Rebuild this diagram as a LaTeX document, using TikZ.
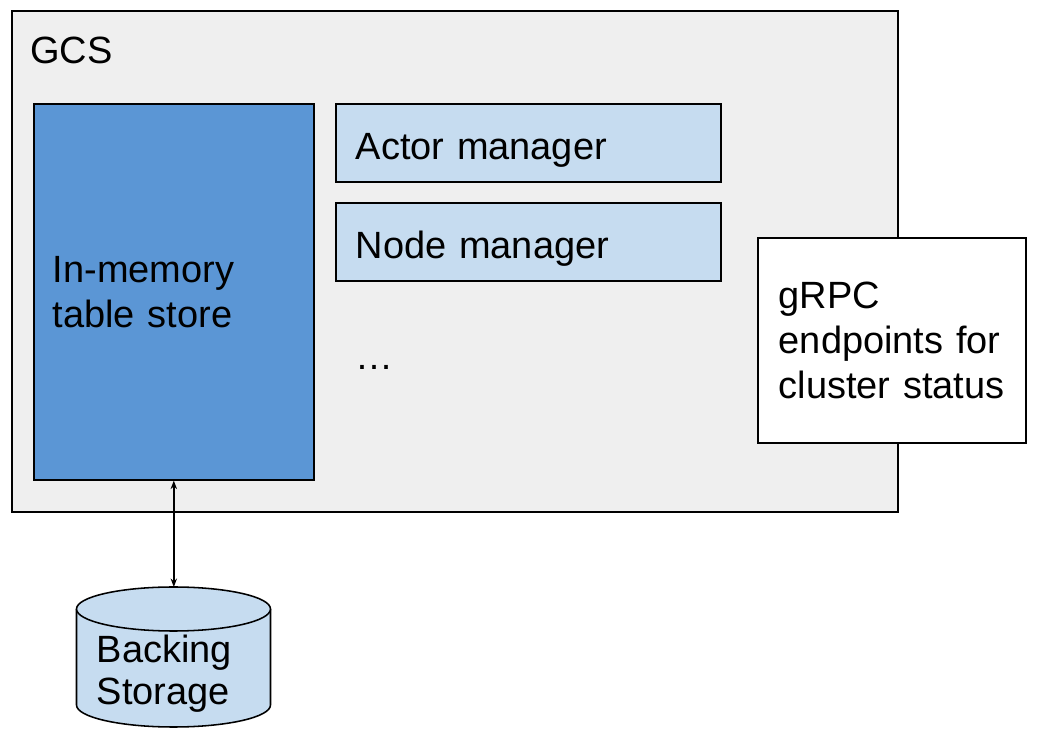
\documentclass[tikz,border=0pt]{standalone}
\usepackage{fontspec}
\setmainfont{Liberation Sans}
\usepackage{tikz}
\usetikzlibrary{arrows,arrows.meta,calc}

\definecolor{gcsgray}{HTML}{EFEFEF}
\definecolor{darkblue}{HTML}{5B96D5}
\definecolor{lightblue}{HTML}{C6DCF0}

\begin{document}
\begin{tikzpicture}[x=0.025cm,y=0.025cm]
	\tikzstyle{box} = [draw, line width=1.1pt, rectangle, anchor=north west, inner ysep=0pt, align=left, font=\fontsize{27}{32}\selectfont]
	\tikzstyle{manager} = [box, fill=lightblue, minimum width=9.625cm, minimum height=1.95cm, inner xsep=0.5cm, text width=8.625cm, text height=23.6pt, text depth=0pt]
	\useasboundingbox (0,0) rectangle (1054,744);
	% outer GCS box
	\node[box, fill=gcsgray, minimum width=22.15cm, minimum height=12.525cm] (gcs) at (11,734) {};
	\node[anchor=base west, inner sep=0pt, font=\fontsize{27}{32}\selectfont] (gcslabel) at (30,680) {GCS};
	% parts inside
	\node[box, fill=darkblue, minimum width=7cm, minimum height=9.4cm, inner xsep=0.475cm, text width=6.05cm] (imts) at (33,641) {In-memory\\table store};
	\node[manager] (actor) at (335,641) {Actor manager};
	\node[manager] (nodemgr) at (335,542) {Node manager};
	\node[anchor=base west, inner sep=0pt, font=\fontsize{27}{32}\selectfont] (dots) at (355,374) {…};
	\node[box, fill=white, minimum width=6.7cm, minimum height=5.125cm, inner xsep=0.525cm, text width=5.65cm] (grpc) at (757,507) {gRPC\\endpoints for\\cluster status};
	% backing storage
	\filldraw[fill=lightblue, line width=1.1pt] (76.5,135) -- (76.5,39) arc[start angle=180, end angle=360, x radius=97, y radius=22] -- (270.5,135);
	\filldraw[fill=lightblue, line width=1.1pt] (173.5,135) ellipse [x radius=97, y radius=22];
	\coordinate (disk) at (173.5,157);
	\node[inner sep=0pt, text width=3.825cm, align=left, font=\fontsize{27}{30}\selectfont] (storage) at (173.5,70) {Backing\\Storage};
	\draw[{Stealth[length=6pt,width=4.5pt]}-{Stealth[length=6pt,width=4.5pt]}, line width=1pt] (imts.south) -- (imts.south |- disk);
\end{tikzpicture}
\end{document}
